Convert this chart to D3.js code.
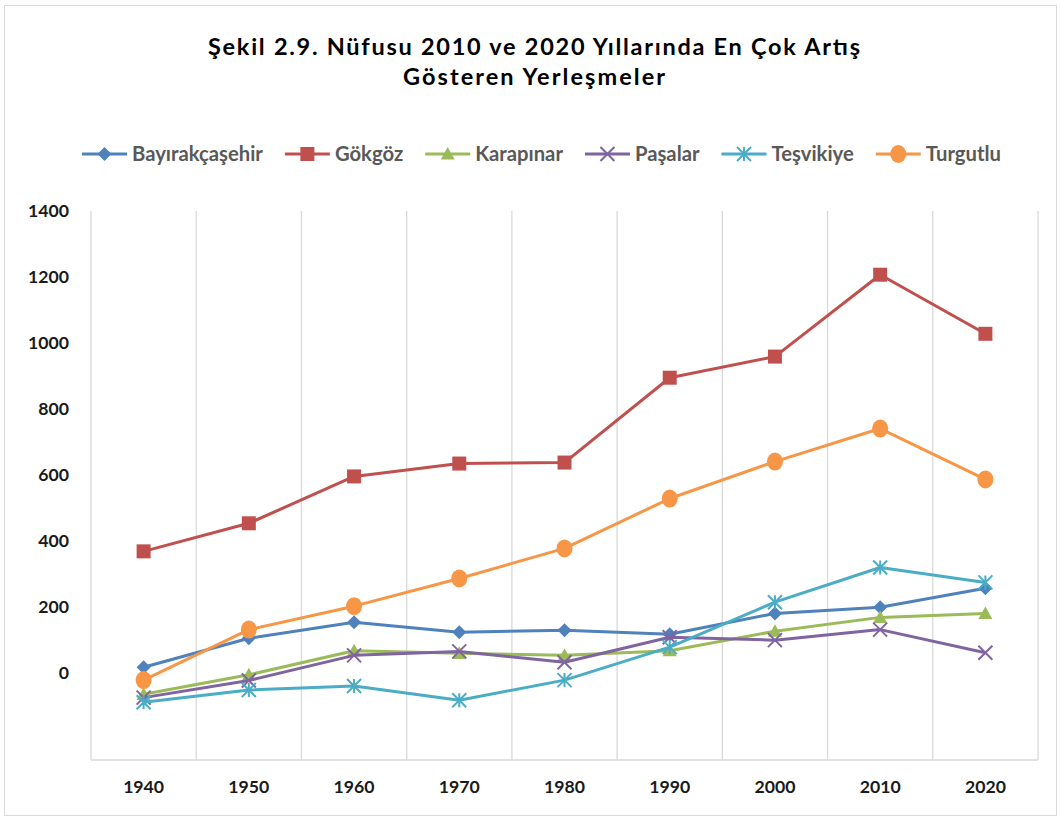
<!DOCTYPE html>
<html><head><meta charset="utf-8">
<script src="https://cdn.jsdelivr.net/npm/d3@7"></script>
<style>body{margin:0;background:#fff}svg{display:block}</style>
</head><body>
<svg id="c" width="1060" height="820"></svg>
<script>
const years = ["1940","1950","1960","1970","1980","1990","2000","2010","2020"];
const seriesNames = ["Bayırakçaşehir","Gökgöz","Karapınar","Paşalar","Teşvikiye","Turgutlu"];
const bayirakcasehir = [18,106,154,124,130,118,181,200,257];
const gokgoz = [369,454,596,635,638,895,959,1207,1028];
const karapinar = [-64,-5,68,60,54,68,127,169,181];
const pasalar = [-74,-22,54,66,33,109,100,132,62];
const tesvikiye = [-88,-51,-39,-82,-21,79,215,320,275];
const turgutlu = [-21,132,203,287,378,529,641,741,587];
const yTicks = [0,200,400,600,800,1000,1200,1400];
const colors = ["#4F81BD","#C0504D","#9BBB59","#8064A2","#4BACC6","#F79646"];
const markers = ["diamond","square","triangle","x","asterisk","circle"];
const titleLines = ["Şekil 2.9. Nüfusu 2010 ve 2020 Yıllarında En Çok Artış","Gösteren Yerleşmeler"];

const data = [bayirakcasehir,gokgoz,karapinar,pasalar,tesvikiye,turgutlu].map((v,i)=>({name:seriesNames[i],values:v,color:colors[i],marker:markers[i]}));

const svg = d3.select("#c");
const font = "Lato, 'Open Sans', sans-serif";
svg.append("rect").attr("x",4.5).attr("y",5.5).attr("width",1052).attr("height",810).attr("fill","#fff").attr("stroke","#d9d9d9");

function fitSize(str, width){
  const t = svg.append("text").attr("font-family",font).attr("font-weight","bold").attr("font-size",20).text(str);
  const w = t.node().getComputedTextLength(); t.remove();
  return 20*width/w;
}

const m = {left:91,right:1038,top:211,bottom:760};
const x = d3.scaleBand().domain(years).range([m.left,m.right]);
const y = d3.scaleLinear().domain([-263,1400]).range([m.bottom,m.top]);

const bounds = years.map(d=>x(d)).concat([m.right]);
svg.append("g").selectAll("line").data(bounds).join("line")
  .attr("x1",d=>d).attr("x2",d=>d).attr("y1",m.top).attr("y2",m.bottom)
  .attr("stroke","#d9d9d9").attr("stroke-width",1.3);
svg.append("line").attr("x1",m.left).attr("x2",m.right).attr("y1",m.bottom).attr("y2",m.bottom).attr("stroke","#d9d9d9").attr("stroke-width",1.3);

const axSize = fitSize("1940",41);
const yAxis = d3.axisLeft(y).tickValues(yTicks).tickFormat(d3.format("d")).tickSize(0).tickPadding(0);
const gy = svg.append("g").attr("transform",`translate(${69},0)`).call(yAxis);
gy.select(".domain").remove();
gy.selectAll("text").attr("font-family",font).attr("font-weight","bold").attr("font-size",axSize).attr("fill","#1a1a1a");

const xAxis = d3.axisBottom(x).tickSize(0).tickPadding(0);
const gx = svg.append("g").attr("transform",`translate(0,${780})`).call(xAxis);
gx.select(".domain").remove();
gx.selectAll("text").attr("font-family",font).attr("font-weight","bold").attr("font-size",axSize).attr("fill","#1a1a1a").attr("dy","0.71em");

// title: fixed size, letter-spaced to the reference line widths
const titleWidths = [652, 262];
svg.append("g").selectAll("text").data(titleLines).join("text")
  .attr("text-anchor","middle").attr("font-family",font).attr("font-weight","bold").attr("font-size",23.5).attr("fill","#000")
  .attr("x",534).attr("y",(d,i)=>55+i*30)
  .attr("textLength",(d,i)=>titleWidths[i]).attr("lengthAdjust","spacing").text(d=>d);

function markerPath(type){
  const s=7;
  switch(type){
    case "diamond": return `M0,${-s}L${s},0L0,${s}L${-s},0Z`;
    case "square": return `M${-s},${-s}H${s}V${s}H${-s}Z`;
    case "triangle": return `M0,${-s}L${s},${s*0.8}L${-s},${s*0.8}Z`;
    case "x": return `M${-s},${-s}L${s},${s}M${s},${-s}L${-s},${s}`;
    case "asterisk": return `M${-s},${-s}L${s},${s}M${s},${-s}L${-s},${s}M0,${-s}V${s}`;
  }
}
function drawMarker(g,type,color){
  if(type==="circle"){
    g.append("ellipse").attr("rx",8).attr("ry",9).attr("fill",color);
  } else if(type==="x"||type==="asterisk"){
    g.append("path").attr("d",markerPath(type)).attr("fill","none").attr("stroke",color).attr("stroke-width",2);
  } else {
    g.append("path").attr("d",markerPath(type)).attr("fill",color);
  }
}

const line = d3.line().x((d,i)=>x(years[i])+x.bandwidth()/2).y(d=>y(d));
const series = svg.append("g").selectAll("g").data(data).join("g");
series.append("path").attr("d",d=>line(d.values)).attr("fill","none").attr("stroke",d=>d.color).attr("stroke-width",3).attr("stroke-linejoin","round");
series.each(function(d){
  const g=d3.select(this);
  d.values.forEach((v,i)=>{
    const mg=g.append("g").attr("transform",`translate(${x(years[i])+x.bandwidth()/2},${y(v)})`);
    drawMarker(mg,d.marker,d.color);
  });
});

const lgSize = fitSize(seriesNames[0],131);
const lg = svg.append("g");
let lx = 82;
data.forEach(d=>{
  const g = lg.append("g").attr("transform",`translate(${lx},154)`);
  g.append("line").attr("x1",0).attr("x2",45).attr("stroke",d.color).attr("stroke-width",3);
  const mg=g.append("g").attr("transform","translate(22.5,0)");
  drawMarker(mg,d.marker,d.color);
  const t=g.append("text").attr("x",50).attr("dy","0.35em").attr("font-family",font).attr("font-weight","bold").attr("font-size",lgSize).attr("fill","#595959").text(d.name);
  lx += 50 + t.node().getComputedTextLength() + 22;
});
</script>
</body></html>
